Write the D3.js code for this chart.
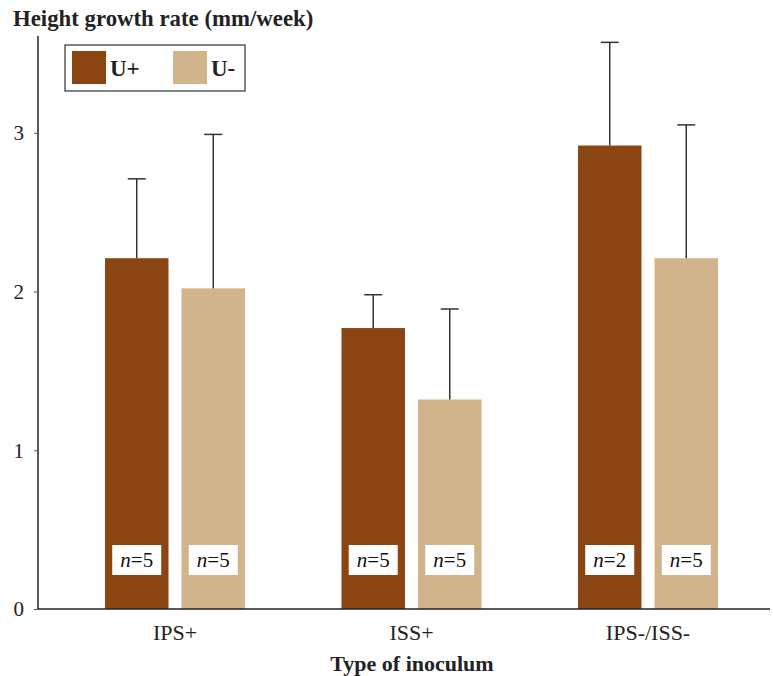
<!DOCTYPE html>
<html>
<head>
<meta charset="utf-8">
<script src="https://cdn.jsdelivr.net/npm/d3@7"></script>
<style>
  body { margin: 0; background: #fff; }
  svg { font-family: "Liberation Serif", "DejaVu Serif", serif; }
</style>
</head>
<body>
<svg id="chart" width="773" height="676"></svg>
<script>
// chart data
const groups = ["IPS+", "ISS+", "IPS-/ISS-"];
const seriesNames = ["U+", "U-"];
const meanUplus = [2.21, 1.77, 2.92];
const meanUminus = [2.02, 1.32, 2.21];
const errUplus = [2.71, 1.98, 3.57];   // top of error bar
const errUminus = [2.99, 1.89, 3.05];
const nUplus = [5, 5, 2];
const nUminus = [5, 5, 5];
const yTicks = [0, 1, 2, 3];

const colors = { "U+": "#8B4513", "U-": "#D2B48C" };

const svg = d3.select("#chart");

const x0 = 38, y0 = 609;

const xScale = d3.scaleBand()
    .domain(groups)
    .range([56.75, 766.25])
    .paddingInner(0)
    .paddingOuter(0);

const xInner = d3.scaleBand()
    .domain(seriesNames)
    .range([0, xScale.bandwidth()])
    .paddingInner(0.17)
    .paddingOuter(0.63);

const yScale = d3.scaleLinear()
    .domain([0, 3.61])
    .range([y0, 36]);

// build rows
const rows = [];
groups.forEach((g, i) => {
    rows.push({ group: g, series: "U+", mean: meanUplus[i], err: errUplus[i], n: nUplus[i] });
    rows.push({ group: g, series: "U-", mean: meanUminus[i], err: errUminus[i], n: nUminus[i] });
});

// bars
svg.selectAll("rect.bar")
    .data(rows)
    .enter().append("rect")
    .attr("class", "bar")
    .attr("x", d => xScale(d.group) + xInner(d.series))
    .attr("y", d => yScale(d.mean))
    .attr("width", xInner.bandwidth())
    .attr("height", d => yScale(0) - yScale(d.mean))
    .attr("fill", d => colors[d.series]);

// error bars (upper only)
const cx = d => xScale(d.group) + xInner(d.series) + xInner.bandwidth() / 2;
svg.selectAll("line.err")
    .data(rows)
    .enter().append("line")
    .attr("x1", cx).attr("x2", cx)
    .attr("y1", d => yScale(d.mean))
    .attr("y2", d => yScale(d.err))
    .attr("stroke", "#333")
    .attr("stroke-width", 1.5);
svg.selectAll("line.cap")
    .data(rows)
    .enter().append("line")
    .attr("x1", d => cx(d) - 9).attr("x2", d => cx(d) + 9)
    .attr("y1", d => yScale(d.err))
    .attr("y2", d => yScale(d.err))
    .attr("stroke", "#333")
    .attr("stroke-width", 1.5);

// n labels
const nl = svg.selectAll("g.nlab")
    .data(rows)
    .enter().append("g")
    .attr("transform", d => `translate(${cx(d)},${560})`);
nl.append("rect")
    .attr("x", -24.5).attr("y", -15)
    .attr("width", 49).attr("height", 30)
    .attr("fill", "#fff");
const nt = nl.append("text")
    .attr("text-anchor", "middle")
    .attr("y", 7)
    .attr("font-size", 21)
    .attr("fill", "#111");
nt.append("tspan").attr("font-style", "italic").text("n");
nt.append("tspan").text(d => "=" + d.n);

// y axis
const yAxis = d3.axisLeft(yScale)
    .tickValues(yTicks)
    .tickSize(4)
    .tickPadding(10)
    .tickFormat(d3.format("d"));
const gy = svg.append("g")
    .attr("transform", `translate(${x0},0)`)
    .call(yAxis);
gy.select(".domain").attr("d", `M0,${36}V${y0}`).attr("stroke", "#222").attr("stroke-width", 1.5);
gy.selectAll(".tick line").attr("stroke", "#555");
gy.selectAll(".tick text")
    .attr("font-family", "Liberation Serif")
    .attr("font-size", 21)
    .attr("fill", "#222");

// x axis
const xAxis = d3.axisBottom(xScale).tickSize(0).tickPadding(15);
const gx = svg.append("g")
    .attr("transform", `translate(0,${y0})`)
    .call(xAxis);
gx.select(".domain").attr("d", `M${x0},0H770`).attr("stroke", "#222").attr("stroke-width", 1.5);
gx.selectAll(".tick text")
    .attr("font-family", "Liberation Serif")
    .attr("font-size", 22)
    .attr("fill", "#222");

// titles
svg.append("text")
    .attr("x", 13).attr("y", 26)
    .attr("font-size", 22.8)
    .attr("font-weight", "bold")
    .attr("fill", "#222")
    .text("Height growth rate (mm/week)");

svg.append("text")
    .attr("x", 412).attr("y", 671)
    .attr("text-anchor", "middle")
    .attr("font-size", 22)
    .attr("font-weight", "bold")
    .attr("fill", "#222")
    .text("Type of inoculum");

// legend
const legend = svg.append("g");
legend.append("rect")
    .attr("x", 65).attr("y", 45)
    .attr("width", 180).attr("height", 46)
    .attr("fill", "#fff")
    .attr("stroke", "#333")
    .attr("stroke-width", 1.2);
const legX = [72, 173];
seriesNames.forEach((s, i) => {
    legend.append("rect")
        .attr("x", legX[i]).attr("y", 51)
        .attr("width", 34).attr("height", 33)
        .attr("fill", colors[s]);
    legend.append("text")
        .attr("x", legX[i] + 38).attr("y", 76)
        .attr("font-size", 23)
        .attr("font-weight", "bold")
        .attr("fill", "#222")
        .text(s);
});
</script>
</body>
</html>
